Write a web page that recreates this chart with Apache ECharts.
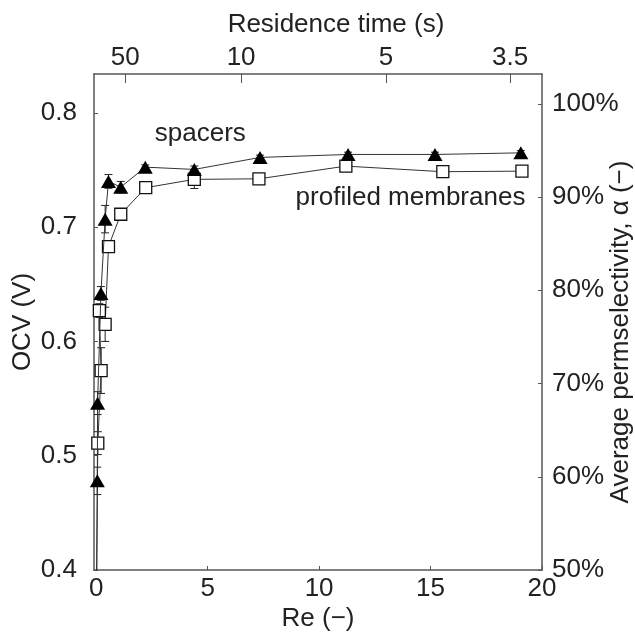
<!DOCTYPE html>
<html>
<head>
<meta charset="utf-8">
<script src="https://cdn.jsdelivr.net/npm/echarts@6/dist/echarts.min.js"></script>
<style>
  html, body { margin: 0; padding: 0; background: #fff; }
  #chart { width: 635px; height: 639px; }
</style>
</head>
<body>
<div id="chart"></div>
<script>
// Open-circuit voltage vs Reynolds number for the two stack configurations
const reSpacers    = [0.02, 0.05, 0.06, 0.21, 0.40, 0.55, 1.10, 2.20, 4.40, 7.35, 11.30, 15.20, 19.05];
const ocvSpacers   = [0.395, 0.478, 0.546, 0.642, 0.707, 0.740, 0.735, 0.7525, 0.7505, 0.761, 0.7636, 0.7636, 0.765];
const errSpacers   = [0, 0.012, 0.010, 0.006, 0.012, 0.006, 0.005, 0.002, 0.003, 0.002, 0.002, 0.002, 0.002];

const reMembranes  = [0.02, 0.07, 0.22, 0.14, 0.40, 0.55, 1.10, 2.22, 4.40, 7.30, 11.20, 15.55, 19.10];
const ocvMembranes = [0.395, 0.511, 0.5745, 0.627, 0.615, 0.683, 0.7113, 0.7345, 0.7418, 0.7423, 0.7534, 0.7485, 0.749];
const errMembranes = [0, 0.010, 0.020, 0.006, 0.015, 0.003, 0.004, 0.002, 0.008, 0.002, 0.002, 0.003, 0.004];

// Axis ticks
const reTicks = [0, 5, 10, 15, 20];
const residenceTimes = [50, 10, 5, 3.5];      // s, top axis
const RE_TIME_PRODUCT = 65;                   // Re × residence time (s)

const FONT = 'Liberation Sans';
const FS = 26;
const TXT = '#222';
const AXIS = '#555';

function pairs(xs, ys) { return xs.map((x, i) => [x, ys[i]]); }
function bars(xs, ys, es) { return xs.map((x, i) => [x, ys[i] - es[i], ys[i] + es[i]]); }

function errorBarItem(params, api) {
  const x = api.value(0);
  const lo = api.coord([x, api.value(1)]);
  const hi = api.coord([x, api.value(2)]);
  const w = 4;
  const st = { stroke: '#222', lineWidth: 1 };
  return {
    type: 'group',
    children: [
      { type: 'line', shape: { x1: lo[0], y1: lo[1], x2: hi[0], y2: hi[1] }, style: st },
      { type: 'line', shape: { x1: lo[0] - w, y1: lo[1], x2: lo[0] + w, y2: lo[1] }, style: st },
      { type: 'line', shape: { x1: hi[0] - w, y1: hi[1], x2: hi[0] + w, y2: hi[1] }, style: st }
    ]
  };
}

const chart = echarts.init(document.getElementById('chart'), null, { renderer: 'canvas' });

const lineAxis = { show: true, onZero: false, lineStyle: { color: AXIS, width: 1.5 } };
const labelBase = { color: TXT, fontFamily: FONT, fontSize: FS };
const nameStyle = { color: TXT, fontFamily: FONT, fontSize: FS };
const topTicks = residenceTimes.map(t => RE_TIME_PRODUCT / t);

chart.setOption({
  animation: false,
  backgroundColor: '#fff',
  grid: { left: 94, right: 93, top: 74, bottom: 69, outerBoundsMode: 'none' },
  xAxis: [
    {
      type: 'value', position: 'bottom', min: -0.1, max: 20,
      name: 'Re (−)', nameLocation: 'middle', nameGap: 36, nameMoveOverlap: false,
      nameTextStyle: nameStyle,
      axisLine: lineAxis,
      axisTick: { show: true, inside: true, length: 4, customValues: reTicks, lineStyle: { color: AXIS } },
      axisLabel: Object.assign({ customValues: reTicks, margin: 6 }, labelBase),
      splitLine: { show: false }
    },
    {
      type: 'value', position: 'top', min: -0.1, max: 20,
      name: 'Residence time (s)', nameLocation: 'middle', nameGap: 36, nameMoveOverlap: false,
      nameTextStyle: Object.assign({ padding: [0, 0, 0, 36] }, nameStyle),
      axisLine: lineAxis,
      axisTick: { show: true, inside: true, length: 9, customValues: topTicks, lineStyle: { color: AXIS } },
      axisLabel: Object.assign({
        customValues: topTicks, margin: 3,
        formatter: v => String(+(RE_TIME_PRODUCT / v).toFixed(1))
      }, labelBase),
      splitLine: { show: false }
    }
  ],
  yAxis: [
    {
      type: 'value', position: 'left', min: 0.4, max: 0.834, interval: 0.1,
      name: 'OCV (V)', nameLocation: 'middle', nameGap: 58, nameRotate: 90, nameMoveOverlap: false,
      nameTextStyle: nameStyle,
      axisLine: lineAxis,
      axisTick: { show: true, inside: true, length: 4, lineStyle: { color: AXIS } },
      axisLabel: Object.assign({ margin: 17, showMaxLabel: false, formatter: v => v.toFixed(1) }, labelBase),
      splitLine: { show: false }
    },
    {
      type: 'value', position: 'right', min: 50, max: 103.2, interval: 10,
      name: 'Average permselectivity, α (−)', nameLocation: 'middle', nameGap: 66, nameRotate: 90,
      nameMoveOverlap: false,
      nameTextStyle: Object.assign({ padding: [0, 20, 0, 0] }, nameStyle),
      axisLine: lineAxis,
      axisTick: { show: true, inside: true, length: 4, lineStyle: { color: AXIS } },
      axisLabel: Object.assign({ margin: 10, showMaxLabel: false, formatter: v => v + '%' }, labelBase),
      splitLine: { show: false }
    }
  ],
  series: [
    {
      name: 'profiled membranes', type: 'custom', xAxisIndex: 0, yAxisIndex: 0,
      renderItem: errorBarItem, encode: { x: 0, y: [1, 2] },
      data: bars(reMembranes, ocvMembranes, errMembranes), clip: true, z: 2
    },
    {
      name: 'spacers', type: 'custom', xAxisIndex: 0, yAxisIndex: 0,
      renderItem: errorBarItem, encode: { x: 0, y: [1, 2] },
      data: bars(reSpacers, ocvSpacers, errSpacers), clip: true, z: 2
    },
    {
      name: 'profiled membranes', type: 'line', xAxisIndex: 0, yAxisIndex: 0,
      data: pairs(reMembranes, ocvMembranes), clip: true, z: 3,
      symbol: 'rect', symbolSize: 12, showAllSymbol: true,
      lineStyle: { color: '#333', width: 1 },
      itemStyle: { color: '#fff', borderColor: '#111', borderWidth: 1.3 },
      markPoint: {
        symbol: 'circle', symbolSize: 0, silent: true,
        label: { show: true, formatter: 'profiled membranes', color: TXT, fontFamily: FONT, fontSize: FS },
        data: [{ coord: [14.1, 0.7255] }]
      }
    },
    {
      name: 'spacers', type: 'line', xAxisIndex: 0, yAxisIndex: 0,
      data: pairs(reSpacers, ocvSpacers), clip: true, z: 4,
      symbol: 'triangle', symbolSize: [15, 13], showAllSymbol: true,
      lineStyle: { color: '#333', width: 1 },
      itemStyle: { color: '#000', borderColor: '#000', borderWidth: 0 },
      markPoint: {
        symbol: 'circle', symbolSize: 0, silent: true,
        label: { show: true, formatter: 'spacers', color: TXT, fontFamily: FONT, fontSize: FS },
        data: [{ coord: [4.67, 0.782] }]
      }
    }
  ]
});
</script>
</body>
</html>
